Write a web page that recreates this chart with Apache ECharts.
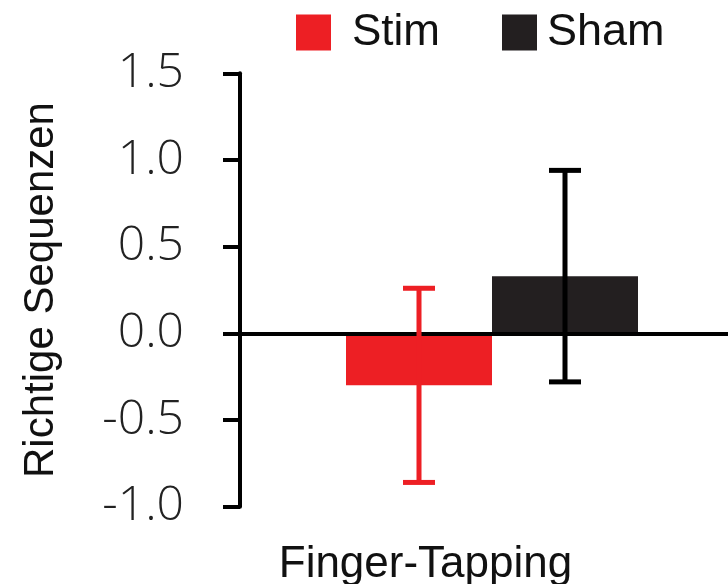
<!DOCTYPE html>
<html>
<head>
<meta charset="utf-8">
<script src="https://cdn.jsdelivr.net/npm/echarts@6/dist/echarts.min.js"></script>
<style>html,body{margin:0;padding:0;background:#fff;}#c{width:728px;height:584px;}</style>
</head>
<body>
<div id="c"></div>
<script>
var categories = ['Finger-Tapping'];
var seriesNames = ['Stim', 'Sham'];
var stimMean = [-0.30];
var stimErrLow = [-0.86];
var stimErrHigh = [0.26];
var shamMean = [0.33];
var shamErrLow = [-0.28];
var shamErrHigh = [0.94];
var yTickValues = [-1.0, -0.5, 0.0, 0.5, 1.0, 1.5];

var RED = '#ed1f24';
var BLACK = '#231f20';
var BAR_W = 146;

function errData(lo, hi) {
  return lo.map(function (v, i) { return [i, v, hi[i]]; });
}
function errRender(sign, color) {
  return function (params, api) {
    var cat = api.value(0), lo = api.value(1), hi = api.value(2);
    var cx = api.coord([cat, 0])[0] + sign * BAR_W / 2;
    var yLo = api.coord([cat, lo])[1], yHi = api.coord([cat, hi])[1];
    var cap = 16;
    var st = { stroke: color, lineWidth: 5 };
    return { type: 'group', children: [
      { type: 'line', shape: { x1: cx, y1: yHi, x2: cx, y2: yLo }, style: st },
      { type: 'line', shape: { x1: cx - cap, y1: yHi, x2: cx + cap, y2: yHi }, style: st },
      { type: 'line', shape: { x1: cx - cap, y1: yLo, x2: cx + cap, y2: yLo }, style: st }
    ]};
  };
}

var chart = echarts.init(document.getElementById('c'), null, { renderer: 'canvas' });
chart.setOption({
  animation: false,
  backgroundColor: '#fff',
  legend: {
    data: seriesNames,
    left: 296,
    top: 10,
    padding: 0,
    icon: 'rect',
    itemWidth: 35,
    itemHeight: 36,
    itemGap: 62,
    formatter: function (name) { return name === 'Stim' ? '{s|' + name + '}' : '{h|' + name + '}'; },
    textStyle: {
      fontFamily: 'Liberation Sans', fontSize: 44, color: '#111',
      rich: {
        s: { fontFamily: 'Liberation Sans', fontSize: 44, color: '#111', padding: [0, 0, 0, 16] },
        h: { fontFamily: 'Liberation Sans', fontSize: 45, color: '#111', padding: [0, 0, 0, 5] }
      }
    }
  },
  grid: { left: 240, right: -16, top: 73.3, bottom: 77.3, containLabel: false, outerBoundsMode: 'none' },
  xAxis: [{
    type: 'category',
    data: categories,
    position: 'bottom',
    axisLine: { show: false, onZero: false },
    axisTick: { show: false },
    axisLabel: {
      fontFamily: 'Liberation Sans', fontSize: 44, color: '#111',
      margin: 36, padding: [0, 133, 0, 0]
    }
  }, {
    type: 'category',
    data: categories,
    position: 'top',
    z: 6,
    axisLine: { show: true, onZero: true, lineStyle: { color: '#000', width: 4 } },
    axisTick: { show: false },
    axisLabel: { show: false }
  }],
  yAxis: {
    type: 'value',
    min: -1, max: 1.5, interval: 0.5,
    name: 'Richtige Sequenzen',
    nameLocation: 'middle',
    nameGap: 178,
    nameTextStyle: { fontFamily: 'Liberation Sans', fontSize: 42, color: '#111' },
    axisLine: { show: true, lineStyle: { color: '#000', width: 4 } },
    axisTick: { show: true, length: 17, lineStyle: { color: '#000', width: 4 } },
    splitLine: { show: false },
    axisLabel: {
      fontFamily: 'Open Sans', fontSize: 48, fontWeight: 300, color: '#222', margin: 56,
      formatter: function (v) { return v.toFixed(1); }
    }
  },
  series: [{
    name: 'Stim', type: 'bar', xAxisIndex: 0, data: stimMean, barWidth: BAR_W, barGap: '0%',
    itemStyle: { color: RED }, z: 2
  }, {
    name: 'Sham', type: 'bar', xAxisIndex: 0, data: shamMean, barWidth: BAR_W, barGap: '0%',
    itemStyle: { color: BLACK }, z: 2
  }, {
    name: 'Stim SEM', type: 'custom', xAxisIndex: 0, data: errData(stimErrLow, stimErrHigh),
    encode: { x: 0, y: [1, 2] }, renderItem: errRender(-1, RED), z: 8, silent: true
  }, {
    name: 'Sham SEM', type: 'custom', xAxisIndex: 0, data: errData(shamErrLow, shamErrHigh),
    encode: { x: 0, y: [1, 2] }, renderItem: errRender(1, '#000'), z: 8, silent: true
  }]
});
</script>
</body>
</html>
